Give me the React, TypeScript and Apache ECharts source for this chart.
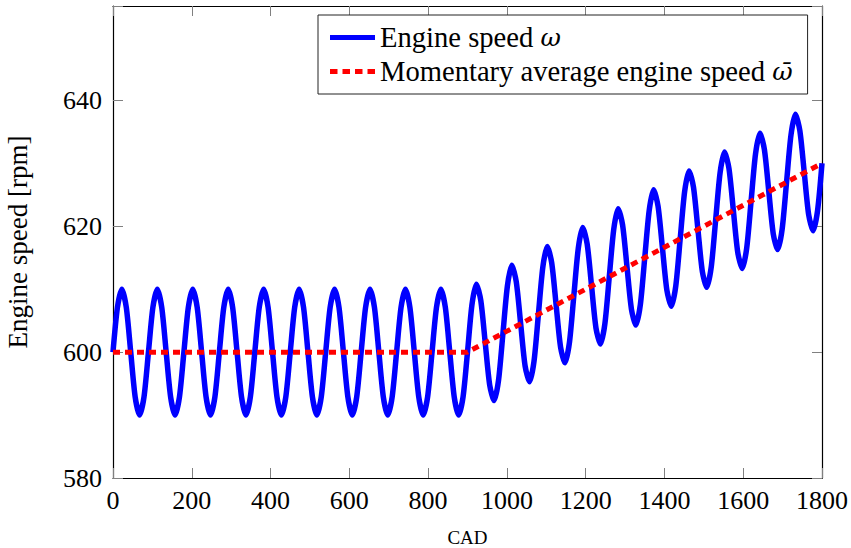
import React, { useEffect, useRef } from "react";
import * as echarts from "echarts";

// Crank angle spacing (CAD) between consecutive engine speed samples
const SPEED_STEP = 11.25;

// Instantaneous engine speed ω [rpm], one sample every SPEED_STEP CAD from 0 to 1800
const engineSpeed = [
  600, 607.1, 610, 607.1, 600, 592.9, 590, 592.9,
  600, 607.1, 610, 607.1, 600, 592.9, 590, 592.9,
  600, 607.1, 610, 607.1, 600, 592.9, 590, 592.9,
  600, 607.1, 610, 607.1, 600, 592.9, 590, 592.9,
  600, 607.1, 610, 607.1, 600, 592.9, 590, 592.9,
  600, 607.1, 610, 607.1, 600, 592.9, 590, 592.9,
  600, 607.1, 610, 607.1, 600, 592.9, 590, 592.9,
  600, 607.1, 610, 607.1, 600, 592.9, 590, 592.9,
  600, 607.1, 610, 607.1, 600, 592.9, 590, 592.9,
  600, 607.1, 610, 607.1, 600, 592.9, 590, 592.9,
  600, 607.5, 610.8, 608.2, 601.5, 594.8, 592.3, 595.5,
  603.0, 610.5, 613.8, 611.2, 604.5, 597.8, 595.3, 598.5,
  606.0, 613.5, 616.8, 614.2, 607.5, 600.8, 598.3, 601.5,
  609.0, 616.5, 619.8, 617.2, 610.5, 603.8, 601.3, 604.5,
  612.0, 619.5, 622.8, 620.2, 613.5, 606.8, 604.3, 607.5,
  615.0, 622.5, 625.8, 623.2, 616.5, 609.8, 607.3, 610.5,
  618.0, 625.5, 628.8, 626.2, 619.5, 612.8, 610.3, 613.5,
  621.0, 628.5, 631.8, 629.2, 622.5, 615.8, 613.3, 616.5,
  624.0, 631.5, 634.8, 632.2, 625.5, 618.8, 616.3, 619.5,
  627.0, 634.5, 637.8, 635.2, 628.5, 621.8, 619.3, 622.5,
  630.0,
];

// Momentary average engine speed ω̄ [rpm] at the listed crank angles
const averageCad = [0, 900, 990, 1080, 1170, 1260, 1350, 1440, 1530, 1620, 1710, 1800];
const averageSpeed = [600, 600, 603, 606, 609, 612, 615, 618, 621, 624, 627, 630];

// Axis ticks
const xTicks = [0, 200, 400, 600, 800, 1000, 1200, 1400, 1600, 1800];
const yTicks = [580, 600, 620, 640];

const SERIF = "Liberation Serif";
const MATH = "DejaVu Serif";

// Legend keys: a solid stroke and a dashed stroke, 45 px wide and 5 px thick
const SOLID_ICON = "path://M0,0H45V5H0Z";
const DASHED_ICON =
  "path://M0,0H7.5V5H0Z M12.5,0H20V5H12.5Z M25,0H32.5V5H25Z M37.5,0H45V5H37.5Z";

export default function App() {
  const ref = useRef<HTMLDivElement>(null);

  useEffect(() => {
    if (!ref.current) return;
    const chart = echarts.init(ref.current, undefined, { renderer: "svg" });

    const speedData = engineSpeed.map((v, i) => [i * SPEED_STEP, v]);
    const avgData = averageCad.map((c, i) => [c, averageSpeed[i]]);

    const xMin = xTicks[0];
    const xMax = xTicks[xTicks.length - 1];
    const xInterval = xTicks[1] - xTicks[0];
    const yInterval = yTicks[1] - yTicks[0];

    const tickStyle = { show: true, inside: true, length: 10, lineStyle: { color: "#808080", width: 1 } };
    const frameLine = { show: true, onZero: false, lineStyle: { color: "#000", width: 1.2 } };

    chart.setOption({
      animation: false,
      backgroundColor: "#fff",
      textStyle: { fontFamily: SERIF },
      grid: {
        left: 113,
        right: 29,
        top: 6,
        bottom: 70,
        containLabel: false,
        outerBoundsMode: "none",
      },
      legend: {
        orient: "vertical",
        left: 318,
        top: 15,
        padding: [8, 15, 8, 12],
        itemGap: 5,
        itemWidth: 45,
        itemHeight: 14,
        backgroundColor: "#fff",
        borderColor: "#222",
        borderWidth: 1,
        borderRadius: 0,
        textStyle: {
          fontFamily: SERIF,
          fontSize: 28.6,
          color: "#000",
          lineHeight: 28,
          rich: {
            t: { fontFamily: SERIF, fontSize: 28.6, color: "#000", lineHeight: 28 },
            m: { fontFamily: MATH, fontSize: 25, fontStyle: "italic", color: "#000", lineHeight: 28 },
          },
        },
        formatter: (name: string) =>
          name === "speed"
            ? "{t|Engine speed }{m|ω}"
            : "{t|Momentary average engine speed }{m|ω\u0304}",
        data: [
          { name: "speed", icon: SOLID_ICON, itemStyle: { color: "#0000ff" } },
          { name: "average", icon: DASHED_ICON, itemStyle: { color: "#ff0000" } },
        ],
      },
      xAxis: [
        {
          type: "value",
          position: "bottom",
          min: xMin,
          max: xMax,
          interval: xInterval,
          name: "CAD",
          nameLocation: "middle",
          nameGap: 50,
          nameTextStyle: { fontFamily: SERIF, fontSize: 19, color: "#000" },
          axisLine: frameLine,
          axisTick: tickStyle,
          splitLine: { show: false },
          axisLabel: {
            fontFamily: SERIF,
            fontSize: 26,
            color: "#000",
            margin: 9,
            formatter: (v: number) => String(v),
          },
        },
        {
          type: "value",
          position: "top",
          min: xMin,
          max: xMax,
          interval: xInterval,
          axisLine: frameLine,
          axisTick: tickStyle,
          splitLine: { show: false },
          axisLabel: { show: false },
        },
      ],
      yAxis: [
        {
          type: "value",
          position: "left",
          min: yTicks[0],
          max: 655,
          interval: yInterval,
          name: "Engine speed [rpm]",
          nameLocation: "middle",
          nameGap: 82,
          nameRotate: 90,
          nameTextStyle: { fontFamily: SERIF, fontSize: 27, color: "#000" },
          axisLine: frameLine,
          axisTick: tickStyle,
          splitLine: { show: false },
          axisLabel: {
            fontFamily: SERIF,
            fontSize: 26,
            color: "#000",
            margin: 11,
            formatter: (v: number) => (yTicks.includes(v) ? String(v) : ""),
          },
        },
        {
          type: "value",
          position: "right",
          min: yTicks[0],
          max: 655,
          interval: yInterval,
          axisLine: frameLine,
          axisTick: tickStyle,
          splitLine: { show: false },
          axisLabel: { show: false },
        },
      ],
      series: [
        {
          name: "speed",
          type: "line",
          xAxisIndex: 0,
          yAxisIndex: 0,
          data: speedData,
          symbol: "none",
          smooth: 0.25,
          lineStyle: { color: "#0000ff", width: 5.5, join: "miter" },
          itemStyle: { color: "#0000ff" },
          z: 2,
        },
        {
          name: "average",
          type: "line",
          xAxisIndex: 0,
          yAxisIndex: 0,
          data: avgData,
          symbol: "none",
          lineStyle: { color: "#ff0000", width: 5, type: [7, 5], cap: "butt" },
          itemStyle: { color: "#ff0000" },
          z: 3,
        },
      ],
    });

    return () => chart.dispose();
  }, []);

  return (
    <div
      ref={ref}
      style={{ position: "absolute", left: 0, top: 0, width: 851, height: 548, background: "#fff" }}
    />
  );
}
